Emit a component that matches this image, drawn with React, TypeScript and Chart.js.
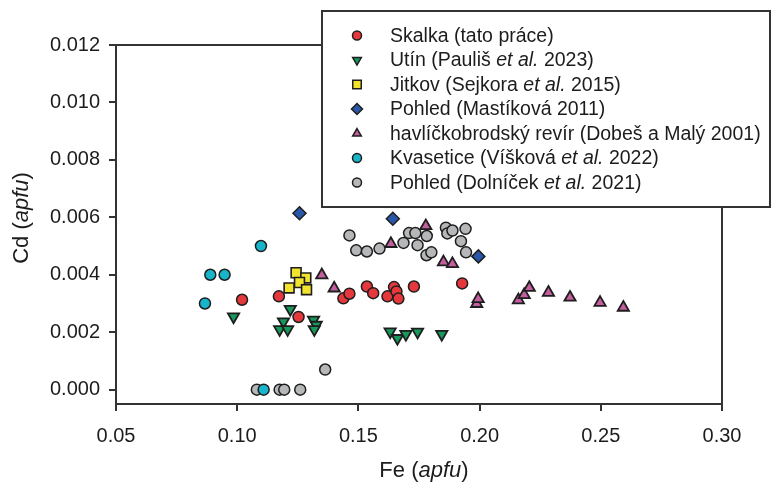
import React, { useEffect, useRef } from 'react';
import { Chart, registerables } from 'chart.js';

Chart.register(...registerables);

const xTicks = [0.05, 0.1, 0.15, 0.2, 0.25, 0.3];
const yTicks = [0, 0.002, 0.004, 0.006, 0.008, 0.01, 0.012];

const skalkaFe = [0.102, 0.1172, 0.1253, 0.1438, 0.1463, 0.1535, 0.1561, 0.162, 0.1647, 0.1657, 0.1665, 0.1729, 0.1928];
const skalkaCd = [0.00313, 0.00325, 0.00253, 0.00318, 0.00334, 0.00359, 0.00336, 0.00325, 0.00357, 0.00342, 0.00317, 0.00359, 0.0037];

const utinFe = [0.0985, 0.1219, 0.1191, 0.1175, 0.1208, 0.1315, 0.1326, 0.1318, 0.1631, 0.1661, 0.1696, 0.1744, 0.1844];
const utinCd = [0.00254, 0.0028, 0.00237, 0.0021, 0.0021, 0.00243, 0.00225, 0.0021, 0.00202, 0.00179, 0.00193, 0.00201, 0.00193];

const jitkovFe = [0.1243, 0.1283, 0.1257, 0.1214, 0.1286];
const jitkovCd = [0.00407, 0.00389, 0.00373, 0.00354, 0.00348];

const mastikovaFe = [0.1257, 0.1642, 0.1995];
const mastikovaCd = [0.00614, 0.00595, 0.00464];

const havlFe = [0.1349, 0.14, 0.1634, 0.1778, 0.1851, 0.1888, 0.1988, 0.1994, 0.216, 0.2184, 0.2205, 0.2284, 0.2373, 0.2497, 0.2593];
const havlCd = [0.00399, 0.00353, 0.00508, 0.0057, 0.00444, 0.00438, 0.00299, 0.00316, 0.00312, 0.0033, 0.00355, 0.00338, 0.00321, 0.00303, 0.00286];

const kvasFe = [0.0867, 0.0889, 0.0948, 0.1098, 0.1109];
const kvasCd = [0.003, 0.004, 0.004, 0.005, 0];

const dolnicekFe = [0.1081, 0.1175, 0.1194, 0.126, 0.1363, 0.1463, 0.1491, 0.1535, 0.1587, 0.1686, 0.1709, 0.1735, 0.1744, 0.1782, 0.1781, 0.1801, 0.1861, 0.1867, 0.1888, 0.1942, 0.1923, 0.1944];
const dolnicekCd = [0, 0, 0, 0, 0.0007, 0.00537, 0.00485, 0.00481, 0.00491, 0.00511, 0.00545, 0.00545, 0.00503, 0.00535, 0.00468, 0.00478, 0.00564, 0.00544, 0.00554, 0.0056, 0.00517, 0.00478];

// legend labels as [text, italic] segments
const labelSkalka: [string, boolean][] = [['Skalka (tato práce)', false]];
const labelUtin: [string, boolean][] = [['Utín (Pauliš ', false], ['et al.', true], [' 2023)', false]];
const labelJitkov: [string, boolean][] = [['Jitkov (Sejkora ', false], ['et al.', true], [' 2015)', false]];
const labelMastikova: [string, boolean][] = [['Pohled (Mastíková 2011)', false]];
const labelHavl: [string, boolean][] = [['havlíčkobrodský revír (Dobeš a Malý 2001)', false]];
const labelKvas: [string, boolean][] = [['Kvasetice (Víšková ', false], ['et al.', true], [' 2022)', false]];
const labelDolnicek: [string, boolean][] = [['Pohled (Dolníček ', false], ['et al.', true], [' 2021)', false]];

const xTitle: [string, boolean][] = [['Fe (', false], ['apfu', true], [')', false]];
const yTitle: [string, boolean][] = [['Cd (', false], ['apfu', true], [')', false]];

const FONT = '"Liberation Sans", Arial, Helvetica, sans-serif';
const TEXT = '#1c1c1c';
const EDGE = '#1e1e1e';

type Series = {
  label: [string, boolean][];
  fe: number[];
  cd: number[];
  color: string;
  style: string;
  rotation: number;
  radius: number;
  legendRadius: number;
  edge: number;
};

const series: Series[] = [
  { label: labelSkalka, fe: skalkaFe, cd: skalkaCd, color: '#e4383c', style: 'circle', rotation: 0, radius: 5.5, legendRadius: 4.5, edge: 1.5 },
  { label: labelUtin, fe: utinFe, cd: utinCd, color: '#16995a', style: 'triangle', rotation: 180, radius: 6.5, legendRadius: 5, edge: 1.8 },
  { label: labelJitkov, fe: jitkovFe, cd: jitkovCd, color: '#f2e32c', style: 'rect', rotation: 0, radius: 7, legendRadius: 6, edge: 1.6 },
  { label: labelMastikova, fe: mastikovaFe, cd: mastikovaCd, color: '#2a58a8', style: 'rectRot', rotation: 0, radius: 6.5, legendRadius: 5.5, edge: 1.5 },
  { label: labelHavl, fe: havlFe, cd: havlCd, color: '#c35f9f', style: 'triangle', rotation: 0, radius: 6.5, legendRadius: 5, edge: 1.8 },
  { label: labelKvas, fe: kvasFe, cd: kvasCd, color: '#18b4c9', style: 'circle', rotation: 0, radius: 5.5, legendRadius: 4.5, edge: 1.5 },
  { label: labelDolnicek, fe: dolnicekFe, cd: dolnicekCd, color: '#b6b7b8', style: 'circle', rotation: 0, radius: 5.5, legendRadius: 4.5, edge: 1.5 },
];

function segWidth(ctx: CanvasRenderingContext2D, segs: [string, boolean][], size: number) {
  let w = 0;
  for (const [t, it] of segs) {
    ctx.font = `${it ? 'italic ' : ''}${size}px ${FONT}`;
    w += ctx.measureText(t).width;
  }
  return w;
}

function drawSegs(ctx: CanvasRenderingContext2D, segs: [string, boolean][], x: number, y: number, size: number) {
  let cx = x;
  for (const [t, it] of segs) {
    ctx.font = `${it ? 'italic ' : ''}${size}px ${FONT}`;
    ctx.fillText(t, cx, y);
    cx += ctx.measureText(t).width;
  }
}

function drawMarker(ctx: CanvasRenderingContext2D, s: Series, x: number, y: number, r: number) {
  ctx.save();
  ctx.beginPath();
  if (s.style === 'circle') {
    ctx.arc(x, y, r, 0, Math.PI * 2);
  } else if (s.style === 'rect') {
    const h = Math.SQRT1_2 * r;
    ctx.rect(x - h, y - h, 2 * h, 2 * h);
  } else if (s.style === 'rectRot') {
    ctx.moveTo(x, y - r);
    ctx.lineTo(x + r, y);
    ctx.lineTo(x, y + r);
    ctx.lineTo(x - r, y);
    ctx.closePath();
  } else if (s.style === 'triangle') {
    const sign = s.rotation === 180 ? -1 : 1;
    const a0 = sign > 0 ? -Math.PI / 2 : Math.PI / 2;
    for (let i = 0; i < 3; i++) {
      const a = a0 + (i * 2 * Math.PI) / 3;
      const px = x + Math.cos(a) * r;
      const py = y + Math.sin(a) * r;
      if (i === 0) ctx.moveTo(px, py);
      else ctx.lineTo(px, py);
    }
    ctx.closePath();
  }
  ctx.fillStyle = s.color;
  ctx.fill();
  ctx.lineWidth = 1.5;
  ctx.strokeStyle = EDGE;
  ctx.stroke();
  ctx.restore();
}

const framePlugin = {
  id: 'frameAndExtras',
  beforeDatasetsDraw(chart: any) {
    const { ctx, chartArea } = chart;
    ctx.save();
    ctx.strokeStyle = '#333333';
    ctx.lineWidth = 2;
    ctx.strokeRect(chartArea.left, chartArea.top, chartArea.right - chartArea.left, chartArea.bottom - chartArea.top);
    ctx.restore();
  },
  afterDraw(chart: any) {
    const { ctx, chartArea } = chart;
    ctx.save();
    // axis titles
    ctx.fillStyle = TEXT;
    ctx.textBaseline = 'middle';
    ctx.textAlign = 'left';
    const tsize = 22;
    const xw = segWidth(ctx, xTitle, tsize);
    const xc = (chartArea.left + chartArea.right) / 2 + 5;
    drawSegs(ctx, xTitle, xc - xw / 2, 471, tsize);
    ctx.save();
    ctx.translate(22, 218);
    ctx.rotate(-Math.PI / 2);
    const yw = segWidth(ctx, yTitle, tsize);
    drawSegs(ctx, yTitle, -yw / 2, 0, tsize);
    ctx.restore();

    // legend box
    const bx = 322, by = 11, bw = 448, bh = 196;
    ctx.fillStyle = '#ffffff';
    ctx.fillRect(bx, by, bw, bh);
    ctx.strokeStyle = '#333333';
    ctx.lineWidth = 2;
    ctx.strokeRect(bx, by, bw, bh);
    const lsize = 19.5;
    series.forEach((s, i) => {
      const y = 35.5 + i * 24.5;
      drawMarker(ctx, s, 357, y, s.legendRadius);
      ctx.fillStyle = TEXT;
      ctx.textBaseline = 'middle';
      drawSegs(ctx, s.label, 390, y + 1, lsize);
    });
    ctx.restore();
  },
};

export default function App() {
  const ref = useRef<HTMLCanvasElement | null>(null);

  useEffect(() => {
    if (!ref.current) return;
    const datasets = series.map((s) => ({
      label: s.label.map((p) => p[0]).join(''),
      data: s.fe.map((fe, i) => ({ x: fe, y: s.cd[i] })),
      backgroundColor: s.color,
      borderColor: EDGE,
      borderWidth: s.edge,
      pointStyle: s.style,
      rotation: s.rotation,
      pointRadius: s.radius,
      pointHoverRadius: s.radius,
    }));
    const tickFont = { family: FONT, size: 20 };
    const chart = new Chart(ref.current, {
      type: 'scatter',
      data: { datasets: datasets as any },
      plugins: [framePlugin],
      options: {
        animation: false,
        responsive: false,
        events: [],
        layout: { padding: { top: 45, right: 49, left: 0, bottom: 0 } },
        plugins: {
          legend: { display: false },
          tooltip: { enabled: false },
          title: { display: false },
        },
        scales: {
          x: {
            type: 'linear',
            min: 0.05,
            max: 0.3,
            afterBuildTicks: (scale: any) => {
              scale.ticks = xTicks.map((v) => ({ value: v }));
            },
            afterFit: (scale: any) => {
              scale.height = 79;
            },
            border: { display: false },
            grid: { drawOnChartArea: false, drawTicks: true, tickLength: 7, color: '#333333', lineWidth: 2 },
            ticks: {
              font: tickFont,
              color: TEXT,
              padding: 13,
              maxRotation: 0,
              callback: (v: any) => Number(v).toFixed(2),
            },
          },
          y: {
            type: 'linear',
            min: -0.0005,
            max: 0.012,
            afterBuildTicks: (scale: any) => {
              scale.ticks = yTicks.map((v) => ({ value: v }));
            },
            afterFit: (scale: any) => {
              scale.width = 116;
            },
            border: { display: false },
            grid: { drawOnChartArea: false, drawTicks: true, tickLength: 7, color: '#333333', lineWidth: 2 },
            ticks: {
              font: tickFont,
              color: TEXT,
              padding: 9,
              callback: (v: any) => Number(v).toFixed(3),
            },
          },
        },
      } as any,
    });
    return () => chart.destroy();
  }, []);

  return (
    <div style={{ position: 'fixed', left: 0, top: 0, width: 771, height: 483, background: '#ffffff' }}>
      <canvas ref={ref} width={771} height={483} style={{ display: 'block', width: 771, height: 483 }} />
    </div>
  );
}
